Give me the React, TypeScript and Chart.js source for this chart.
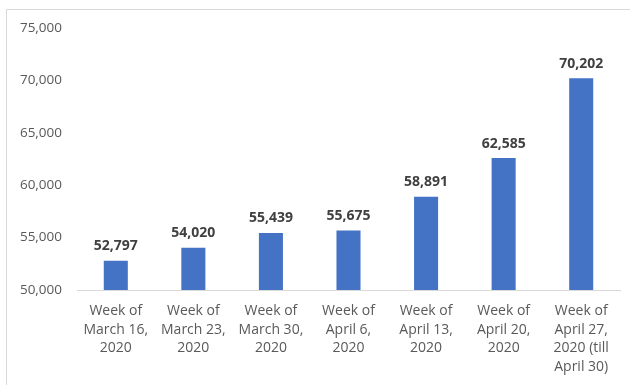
import React, { useEffect, useRef } from "react";
import { Chart, registerables } from "chart.js";

Chart.register(...registerables);

const categories: string[][] = [
  ["Week of", "March 16,", "2020"],
  ["Week of", "March 23,", "2020"],
  ["Week of", "March 30,", "2020"],
  ["Week of", "April 6,", "2020"],
  ["Week of", "April 13,", "2020"],
  ["Week of", "April 20,", "2020"],
  ["Week of", "April 27,", "2020 (till", "April 30)"],
];
const values: number[] = [52797, 54020, 55439, 55675, 58891, 62585, 70202];
const yMin = 50000;
const yMax = 75000;
const yStep = 5000;

const FONT = "'Open Sans', sans-serif";

const framePlugin = {
  id: "frame",
  beforeDraw(chart: any) {
    const ctx = chart.ctx;
    ctx.save();
    ctx.fillStyle = "#ffffff";
    ctx.fillRect(0, 0, chart.width, chart.height);
    ctx.strokeStyle = "#d9d9d9";
    ctx.lineWidth = 1;
    ctx.beginPath();
    ctx.moveTo(6.5, chart.height);
    ctx.lineTo(6.5, 9.5);
    ctx.lineTo(chart.width, 9.5);
    ctx.stroke();
    ctx.restore();
  },
};

const labelPlugin = {
  id: "valueLabels",
  afterDatasetsDraw(chart: any) {
    const ctx = chart.ctx;
    const meta = chart.getDatasetMeta(0);
    const data = chart.data.datasets[0].data as number[];
    ctx.save();
    ctx.font = `bold 14px ${FONT}`;
    ctx.fillStyle = "#404040";
    ctx.textAlign = "center";
    ctx.textBaseline = "alphabetic";
    meta.data.forEach((bar: any, i: number) => {
      ctx.fillText(data[i].toLocaleString("en-US"), bar.x, bar.y - 10.5);
    });
    ctx.restore();
  },
};

export default function App() {
  const ref = useRef<HTMLCanvasElement>(null);
  useEffect(() => {
    if (!ref.current) return;
    const chart = new Chart(ref.current, {
      type: "bar",
      data: {
        labels: categories,
        datasets: [
          {
            data: values,
            backgroundColor: "#4472c4",
            categoryPercentage: 1,
            barPercentage: 0.31,
          },
        ],
      },
      options: {
        animation: false,
        responsive: false,
        devicePixelRatio: 1,
        layout: { padding: { top: 28, right: 10, bottom: 0, left: 0 } },
        plugins: { legend: { display: false }, tooltip: { enabled: false } },
        scales: {
          x: {
            grid: { display: false, drawTicks: false },
            border: { display: true, color: "#d9d9d9", width: 1 },
            ticks: {
              color: "#595959",
              font: { family: FONT, size: 14, lineHeight: 1.32 },
              padding: 12,
              maxRotation: 0,
              autoSkip: false,
            },
            afterFit: (s: any) => {
              s.height = 95;
            },
          },
          y: {
            min: yMin,
            max: yMax,
            grid: { display: false, drawTicks: false },
            border: { display: false },
            ticks: {
              stepSize: yStep,
              color: "#595959",
              font: { family: FONT, size: 13.5 },
              padding: 15,
            },
            afterFit: (s: any) => {
              s.width = 77;
            },
          },
        },
      },
      plugins: [framePlugin, labelPlugin],
    });
    return () => chart.destroy();
  }, []);
  return (
    <div style={{ position: "fixed", left: 0, top: 0, width: 630, height: 385, background: "#fff" }}>
      <canvas ref={ref} width={630} height={385} />
    </div>
  );
}
